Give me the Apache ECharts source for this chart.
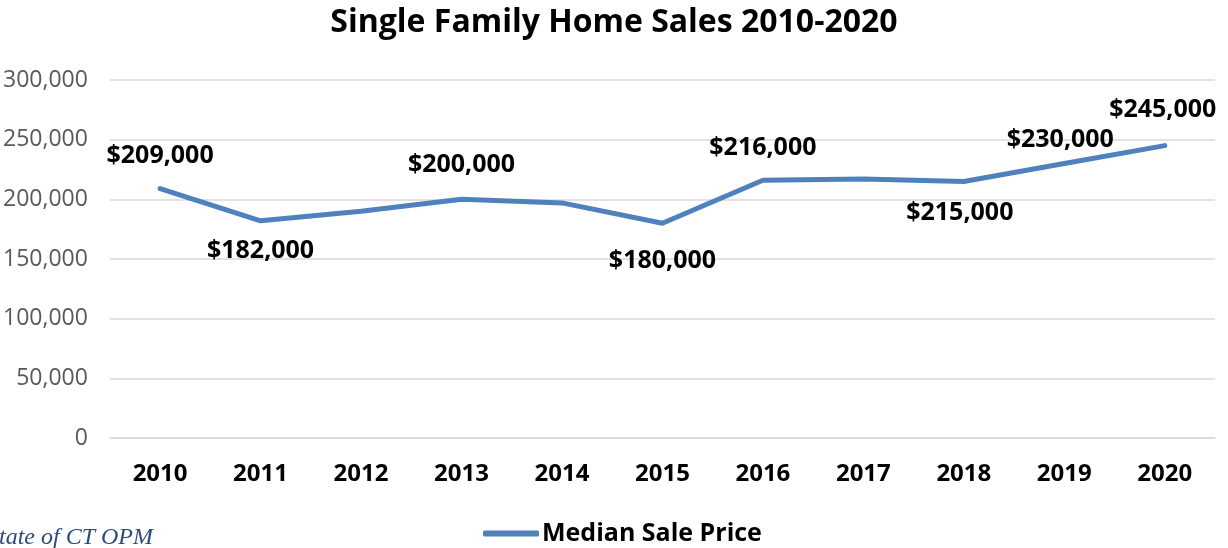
<!DOCTYPE html>
<html>
<head>
<meta charset="utf-8">
<script src="https://cdn.jsdelivr.net/npm/echarts@6/dist/echarts.min.js"></script>
<style>
  html, body { margin: 0; padding: 0; background: #fff; }
  #chart { width: 1228px; height: 548px; }
</style>
</head>
<body>
<div id="chart"></div>
<script>
// values
var years = ["2010", "2011", "2012", "2013", "2014", "2015", "2016", "2017", "2018", "2019", "2020"];
var medianPrice = [209000, 182000, 190000, 200000, 197000, 180000, 216000, 217000, 215000, 230000, 245000];
var yTicks = [0, 50000, 100000, 150000, 200000, 250000, 300000];

// which points carry a label and where it sits
var labelPlace = {
  "2010": ["top", 19, 0], "2011": ["bottom", 17, 0], "2013": ["top", 21, 0],
  "2015": ["bottom", 24, 0], "2016": ["top", 19, 0], "2018": ["bottom", 18, -4],
  "2019": ["top", 10, -4], "2020": ["top", 22, -2]
};

var seriesData = medianPrice.map(function (v, i) {
  var p = labelPlace[years[i]];
  if (!p) return v;
  return { value: v, label: { show: true, position: p[0], distance: p[1], offset: [p[2], 0] } };
});

var chart = echarts.init(document.getElementById("chart"));
chart.setOption({
  animation: false,
  title: {
    text: "Single Family Home Sales 2010-2020",
    left: "center",
    top: 2,
    textStyle: { fontFamily: "Open Sans", fontWeight: "bold", fontSize: 32, color: "#000" }
  },
  legend: {
    top: 516,
    left: 478,
    itemWidth: 56,
    itemHeight: 6,
    itemGap: 4,
    icon: "roundRect",
    textStyle: { fontFamily: "Open Sans", fontWeight: "bold", fontSize: 25, color: "#000", padding: [0, 0, 0, -2] },
    data: ["Median Sale Price"]
  },
  graphic: [{
    type: "text",
    left: -13,
    top: 526,
    style: {
      text: "State of CT OPM",
      font: "italic 24px 'Liberation Serif'",
      fill: "#2B4B7E"
    }
  }],
  grid: { left: 107, right: 13, top: 80, bottom: 110 },
  xAxis: {
    type: "category",
    data: years,
    boundaryGap: true,
    axisLine: { lineStyle: { color: "#d9d9d9", width: 1.5 } },
    axisTick: { show: false },
    axisLabel: { margin: 24, fontFamily: "Open Sans", fontWeight: "bold", fontSize: 24, color: "#000" }
  },
  yAxis: {
    type: "value",
    min: 0,
    max: 300000,
    interval: 50000,
    axisLine: { show: false },
    axisTick: { show: false },
    splitLine: { lineStyle: { color: "#d9d9d9", width: 1.5 } },
    axisLabel: {
      margin: 22,
      fontFamily: "Open Sans",
      fontSize: 23,
      color: "#595959",
      formatter: function (v) {
        return yTicks.indexOf(v) >= 0 ? v.toLocaleString("en-US") : "";
      }
    }
  },
  series: [{
    name: "Median Sale Price",
    type: "line",
    data: seriesData,
    symbol: "circle",
    symbolSize: 2,
    lineStyle: { color: "#4F81BD", width: 5, cap: "round" },
    itemStyle: { color: "#4F81BD" },
    label: {
      show: false,
      fontFamily: "Open Sans",
      fontWeight: "bold",
      fontSize: 25,
      color: "#000",
      formatter: function (p) { return "$" + p.value.toLocaleString("en-US"); }
    }
  }]
});
</script>
</body>
</html>
